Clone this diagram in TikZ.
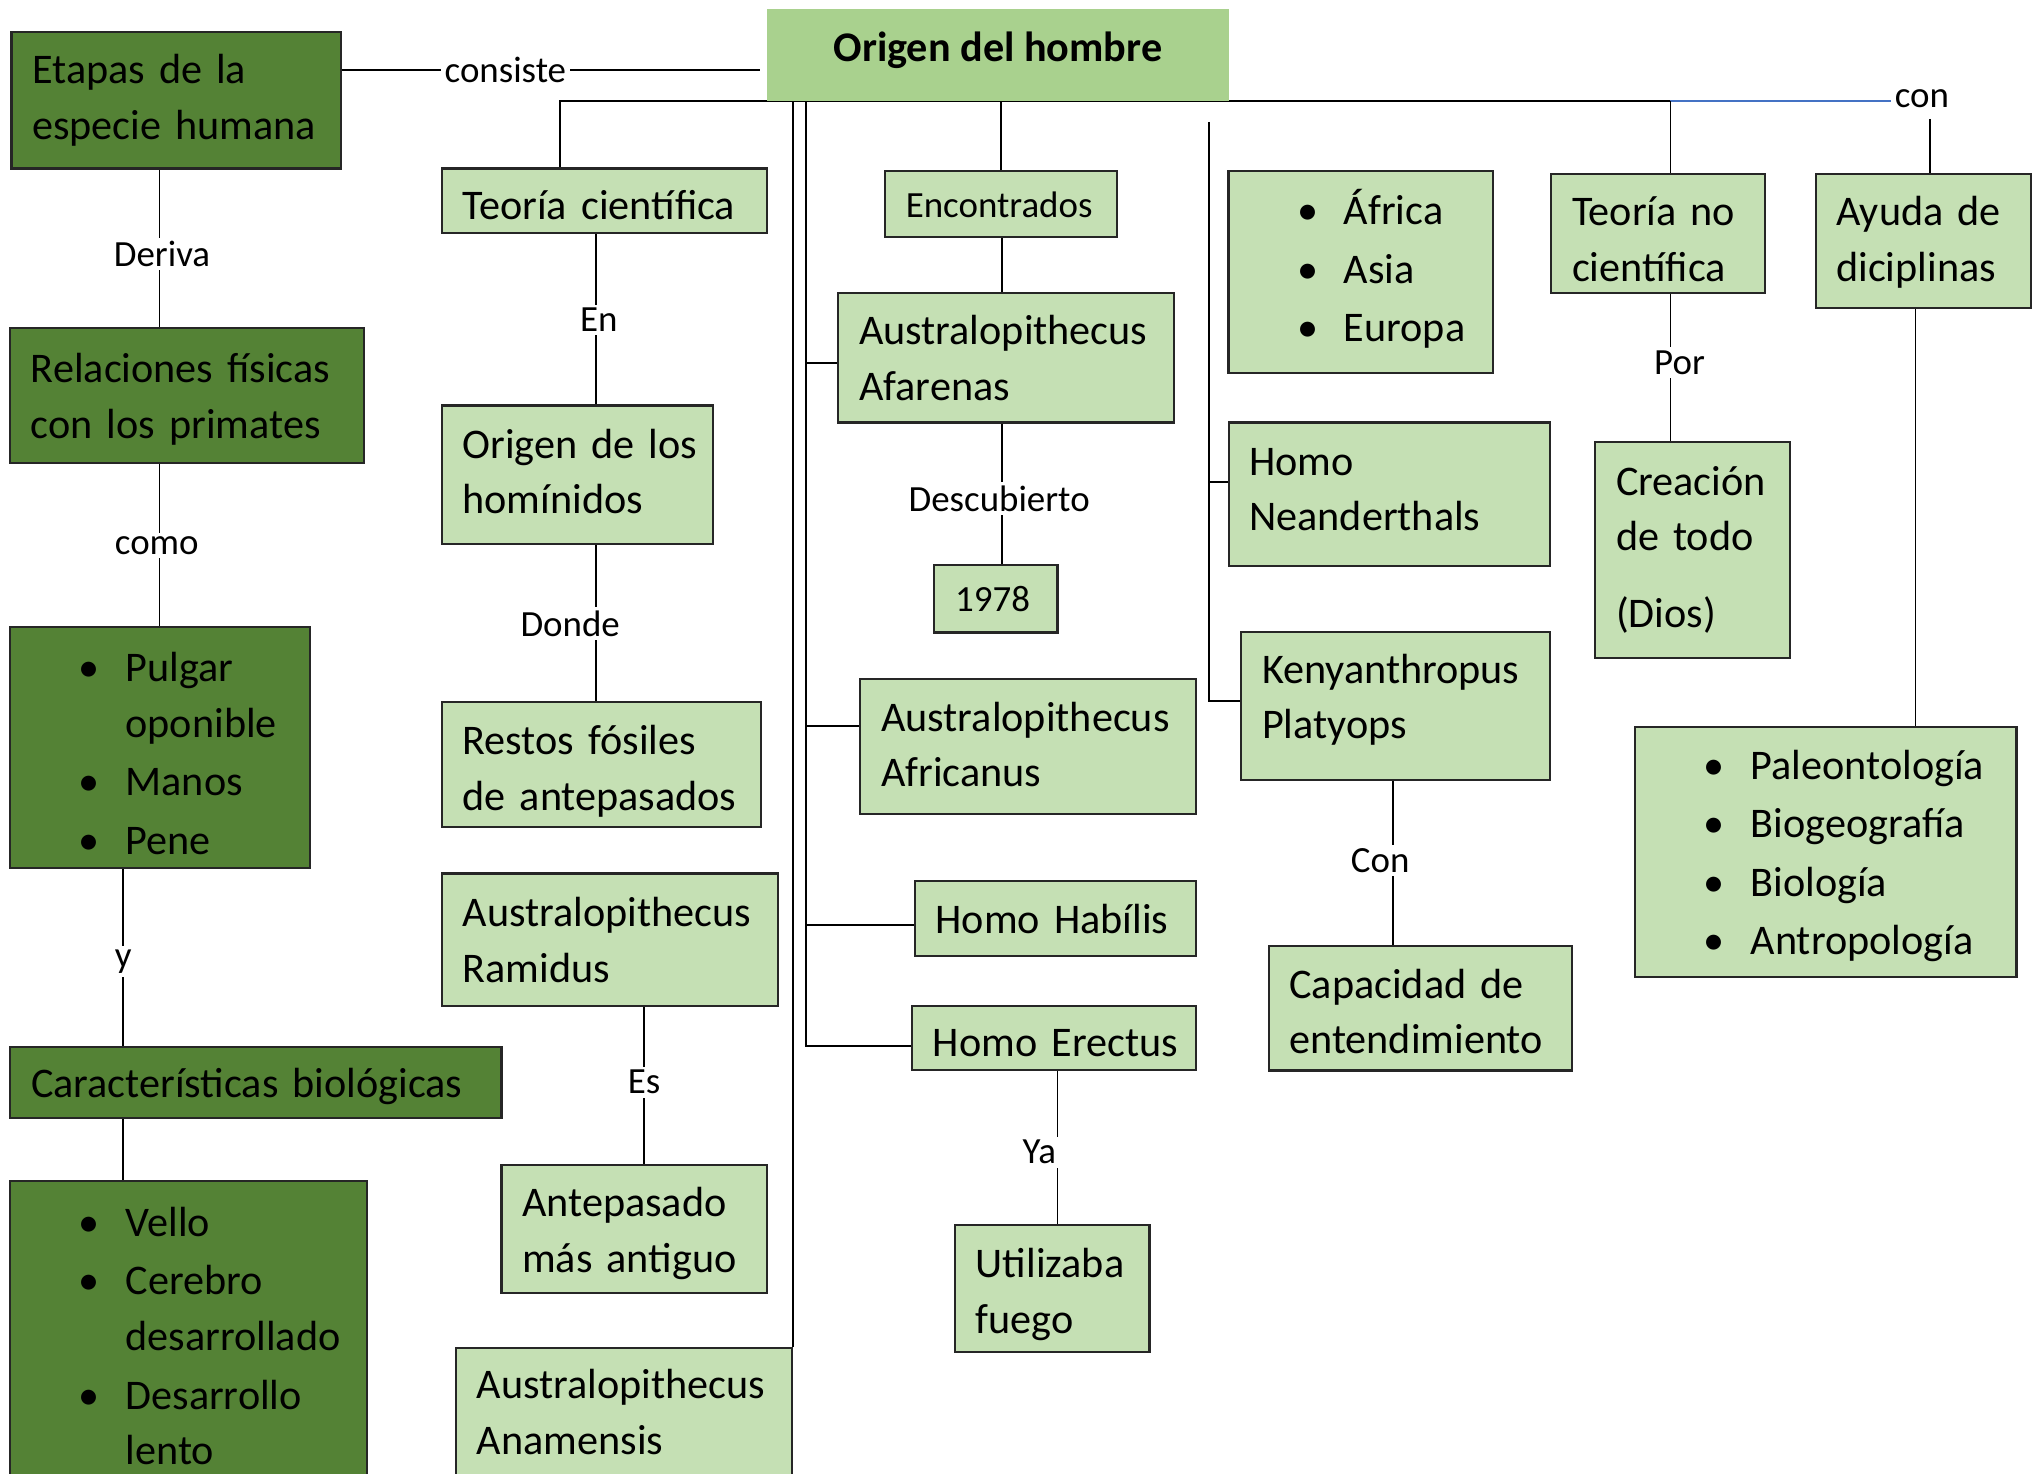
\documentclass[tikz,border=0pt]{standalone}
\usepackage{fontspec}
\setmainfont{Carlito}
\usetikzlibrary{calc}
\usetikzlibrary{positioning}
\definecolor{dark-green}{RGB}{84, 130, 53}
\definecolor{light-green}{RGB}{197, 224, 180}
\definecolor{title-green}{RGB}{169, 209, 142}
\definecolor{link-blue}{RGB}{68, 114, 196}
\newcommand{\bul}{\makebox[26.9pt][l]{\hspace{13.6pt}\textbullet}}
\newcommand{\ind}{\hspace*{26.9pt}}
\hyphenpenalty=10000
\exhyphenpenalty=10000
\pgfdeclarelayer{lines}
\pgfsetlayers{lines,main}

\begin{document}
\begin{tikzpicture}[x=0.012959cm, y=-0.012959cm,
    box/.style={draw=black!85, line width=0.6pt, align=left,
        inner xsep=5.9pt, inner ysep=-8pt, execute at end node=\strut},
    dbox/.style={box, fill=dark-green, font=\fontsize{12}{15.85}\selectfont,
        execute at begin node={\rule{0pt}{13.3pt}}},
    lbox/.style={box, fill=light-green, font=\fontsize{12}{15.85}\selectfont,
        execute at begin node={\rule{0pt}{13.3pt}}},
    sbox/.style={box, fill=light-green, font=\fontsize{10.5}{13}\selectfont,
        execute at begin node={\rule{0pt}{11.3pt}}},
    textdown/.style={execute at begin node={\rule{0pt}{#1}}},
    textup/.style={execute at end node={\rule[-#1]{0pt}{0pt}}},
    lbl/.style={fill=white, inner sep=1pt, font=\fontsize{10.5}{13}\selectfont},
    link/.style={line width=0.5pt}]
    \useasboundingbox (0,0) rectangle (1568,1137);
    \clip (0,0) rectangle (1568,1137);

    \node[fill=title-green, minimum width=131.3pt, minimum height=26.2pt,
          font=\bfseries\fontsize{12}{15}\selectfont] (origen) at (770,42.5)
          {\raisebox{1.3pt}[\height][\depth]{Origen del hombre}};

    \node[dbox, textup=6.95pt, text width=81.9pt, minimum height=38.7pt] (etapas) at (136,77.5) {Etapas~de~la\\especie~humana};
    \node[dbox, text width=88.9pt, minimum height=38.3pt] (relaciones) at (144.5,305) {Relaciones~físicas\\con~los~primates};
    \node[dbox, textdown=16.3pt, text width=73.4pt, minimum height=68.6pt] (rasgos) at (123.5,577) {\bul Pulgar\\\ind oponible\\[0.8pt]\bul Manos\\[0.8pt]\bul Pene};
    \node[dbox, text width=127.9pt, minimum height=20.3pt] (caracteristicas) at (197.5,835.5) {Características~biológicas};
    \node[dbox, text width=89.6pt, minimum height=88.1pt] (biologicas) at (145.5,1030.5) {\bul Vello\\[0.8pt]\bul Cerebro\\\ind desarrollado\\[0.8pt]\bul Desarrollo\\\ind lento};

    \node[lbox, textdown=15.5pt, text width=80.8pt, minimum height=18.4pt] (teoria) at (466.5,155) {Teoría~científica};
    \node[lbox, textup=6.95pt, text width=65.3pt, minimum height=39.5pt] (hominidos) at (445.5,366.5) {Origen~de~los\\homínidos};
    \node[lbox, textdown=14.8pt, text width=78.9pt, minimum height=35.4pt] (restos) at (464,590) {Restos~fósiles\\de~antepasados};
    \node[lbox, text width=83.7pt, minimum height=37.6pt] (ramidus) at (470.5,725) {Australopithecus\\Ramidus};
    \node[lbox, text width=63.8pt, minimum height=36.5pt] (antepasado) at (489.5,948.5) {Antepasado\\más~antiguo};
    \node[lbox, textup=6.95pt, text width=83.7pt, minimum height=38.3pt] (anamensis) at (481.5,1092) {Australopithecus\\Anamensis};

    \node[sbox, text width=54.2pt, minimum height=18.8pt] (encontrados) at (772.5,157.5) {Encontrados};
    \node[lbox, text width=83.7pt, minimum height=36.9pt] (afarenas) at (776.5,276) {Australopithecus\\Afarenas};
    \node[sbox, text width=23.2pt, minimum height=19.2pt] (anio) at (768.5,462) {1978};
    \node[lbox, textup=6.2pt, text width=83.7pt, minimum height=38.3pt] (africanus) at (793.5,576) {Australopithecus\\Africanus};
    \node[lbox, text width=68.2pt, minimum height=21.4pt] (habilis) at (814.5,709) {Homo~Habílis};
    \node[lbox, textdown=15.5pt, text width=69.0pt, minimum height=18.4pt] (erectus) at (813.5,801) {Homo~Erectus};
    \node[lbox, textdown=14.8pt, text width=43.5pt, minimum height=36.1pt] (fuego) at (812,994) {Utilizaba\\fuego};

    \node[lbox, textup=6.95pt, text width=63.4pt, minimum height=57.5pt] (continentes) at (1050,210) {\bul África\\[0.8pt]\bul Asia\\[0.8pt]\bul Europa};
    \node[lbox, textup=8.4pt, text width=79.6pt, minimum height=40.9pt] (neanderthals) at (1072,381.5) {Homo\\Neanderthals};
    \node[lbox, textup=10.65pt, text width=76.0pt, minimum height=42.0pt] (kenyanthropus) at (1077,545) {Kenyanthropus\\Platyops};
    \node[lbox, textdown=14.8pt, text width=74.5pt, minimum height=35.4pt] (capacidad) at (1096,778) {Capacidad~de\\entendimiento};

    \node[lbox, textdown=16.3pt, text width=49.0pt, minimum height=33.9pt] (noCientifica) at (1279.5,180) {Teoría~no\\científica};
    \node[lbox, textup=6.95pt, text width=43.5pt, minimum height=61.6pt] (creacion) at (1306,424.5) {Creación\\de~todo\\[5.9pt](Dios)};
    \node[lbox, textup=6.2pt, text width=49.4pt, minimum height=38.3pt] (ayuda) at (1484,186) {Ayuda~de\\diciplinas};
    \node[lbox, text width=96.6pt, minimum height=71.2pt] (disciplinas) at (1409,657.5) {\bul Paleontología\\[0.8pt]\bul Biogeografía\\[0.8pt]\bul Biología\\[0.8pt]\bul Antropología};

    \node[lbl] (consiste) at (390,54) {consiste};
    \node[lbl] (deriva) at (125,196) {Deriva};
    \node[lbl] (como) at (121,421) {como};
    \node[lbl] (ylbl) at (95,742) {y};
    \node[lbl] (en) at (462,247) {En};
    \node[lbl] (donde) at (440,481) {Donde};
    \node[lbl] (es) at (497,835) {Es};
    \node[lbl] (descubierto) at (771,385) {Descubierto};
    \node[lbl] (ya) at (802,889) {Ya};
    \node[lbl] (conCapacidad) at (1065,664) {Con};
    \node[lbl] (por) at (1296,280) {Por};
    \node[lbl] (conAyuda) at (1483,76) {con};

    \coordinate (busL) at (432,78);
    \coordinate (busR) at (1289,78);
    \coordinate (tronco) at (622,78);
    \coordinate (rAfarenas) at (622,280);
    \coordinate (rAfricanus) at (622,560);
    \coordinate (rHabilis) at (622,714);
    \coordinate (rErectus) at (622,807);
    \coordinate (ramaTop) at (933,94);
    \coordinate (rNeander) at (933,372);
    \coordinate (rKenya) at (933,541);

    \begin{pgfonlayer}{lines}
        \draw[link, shorten >=1.8pt] (etapas.east |- consiste) -- (origen.west |- consiste);
        \draw[link] (etapas.south -| 123,0) -- (relaciones.north -| 123,0);
        \draw[link] (relaciones.south -| 123,0) -- (rasgos.north -| 123,0);
        \draw[link] (rasgos.south -| ylbl) -- (caracteristicas.north -| ylbl)
                    (caracteristicas.south -| ylbl) -- (biologicas.north -| ylbl);

        \draw[link] (teoria.north -| busL) -- (busL) -- (busR);
        \draw[link, link-blue] (busR) -- (busR -| conAyuda.west);
        \draw[link, shorten <=2pt] (conAyuda.south -| 1489,0) -- (ayuda.north -| 1489,0);
        \draw[link] (teoria.south -| 460,0) -- (hominidos.north -| 460,0)
                    (hominidos.south -| 460,0) -- (restos.north -| 460,0);
        \draw[link] (ramidus.south -| es) -- (antepasado.north -| es);
        \draw[link] (anamensis.north east) -- (anamensis.north east |- origen.south);

        \draw[link] (tronco) -- (rErectus) -- (rErectus -| erectus.west);
        \draw[link] (rAfarenas) -- (rAfarenas -| afarenas.west);
        \draw[link] (rAfricanus) -- (rAfricanus -| africanus.west);
        \draw[link] (rHabilis) -- (rHabilis -| habilis.west);
        \draw[link] (encontrados.north |- origen.south) -- (encontrados.north)
                    (encontrados.south -| 773,0) -- (afarenas.north -| 773,0)
                    (afarenas.south -| 773,0) -- (anio.north -| 773,0);
        \draw[link] (erectus.south -| 816,0) -- (fuego.north -| 816,0);

        \draw[link] (ramaTop) -- (rKenya) -- (rKenya -| kenyanthropus.west);
        \draw[link] (rNeander) -- (rNeander -| neanderthals.west);
        \draw[link] (kenyanthropus.south -| 1075,0) -- (capacidad.north -| 1075,0);

        \draw[link] (busR) -- (busR |- noCientifica.north)
                    (noCientifica.south -| busR) -- (creacion.north -| busR);
        \draw[link] (ayuda.south -| 1478,0) -- (disciplinas.north -| 1478,0);
    \end{pgfonlayer}
\end{tikzpicture}
\end{document}
